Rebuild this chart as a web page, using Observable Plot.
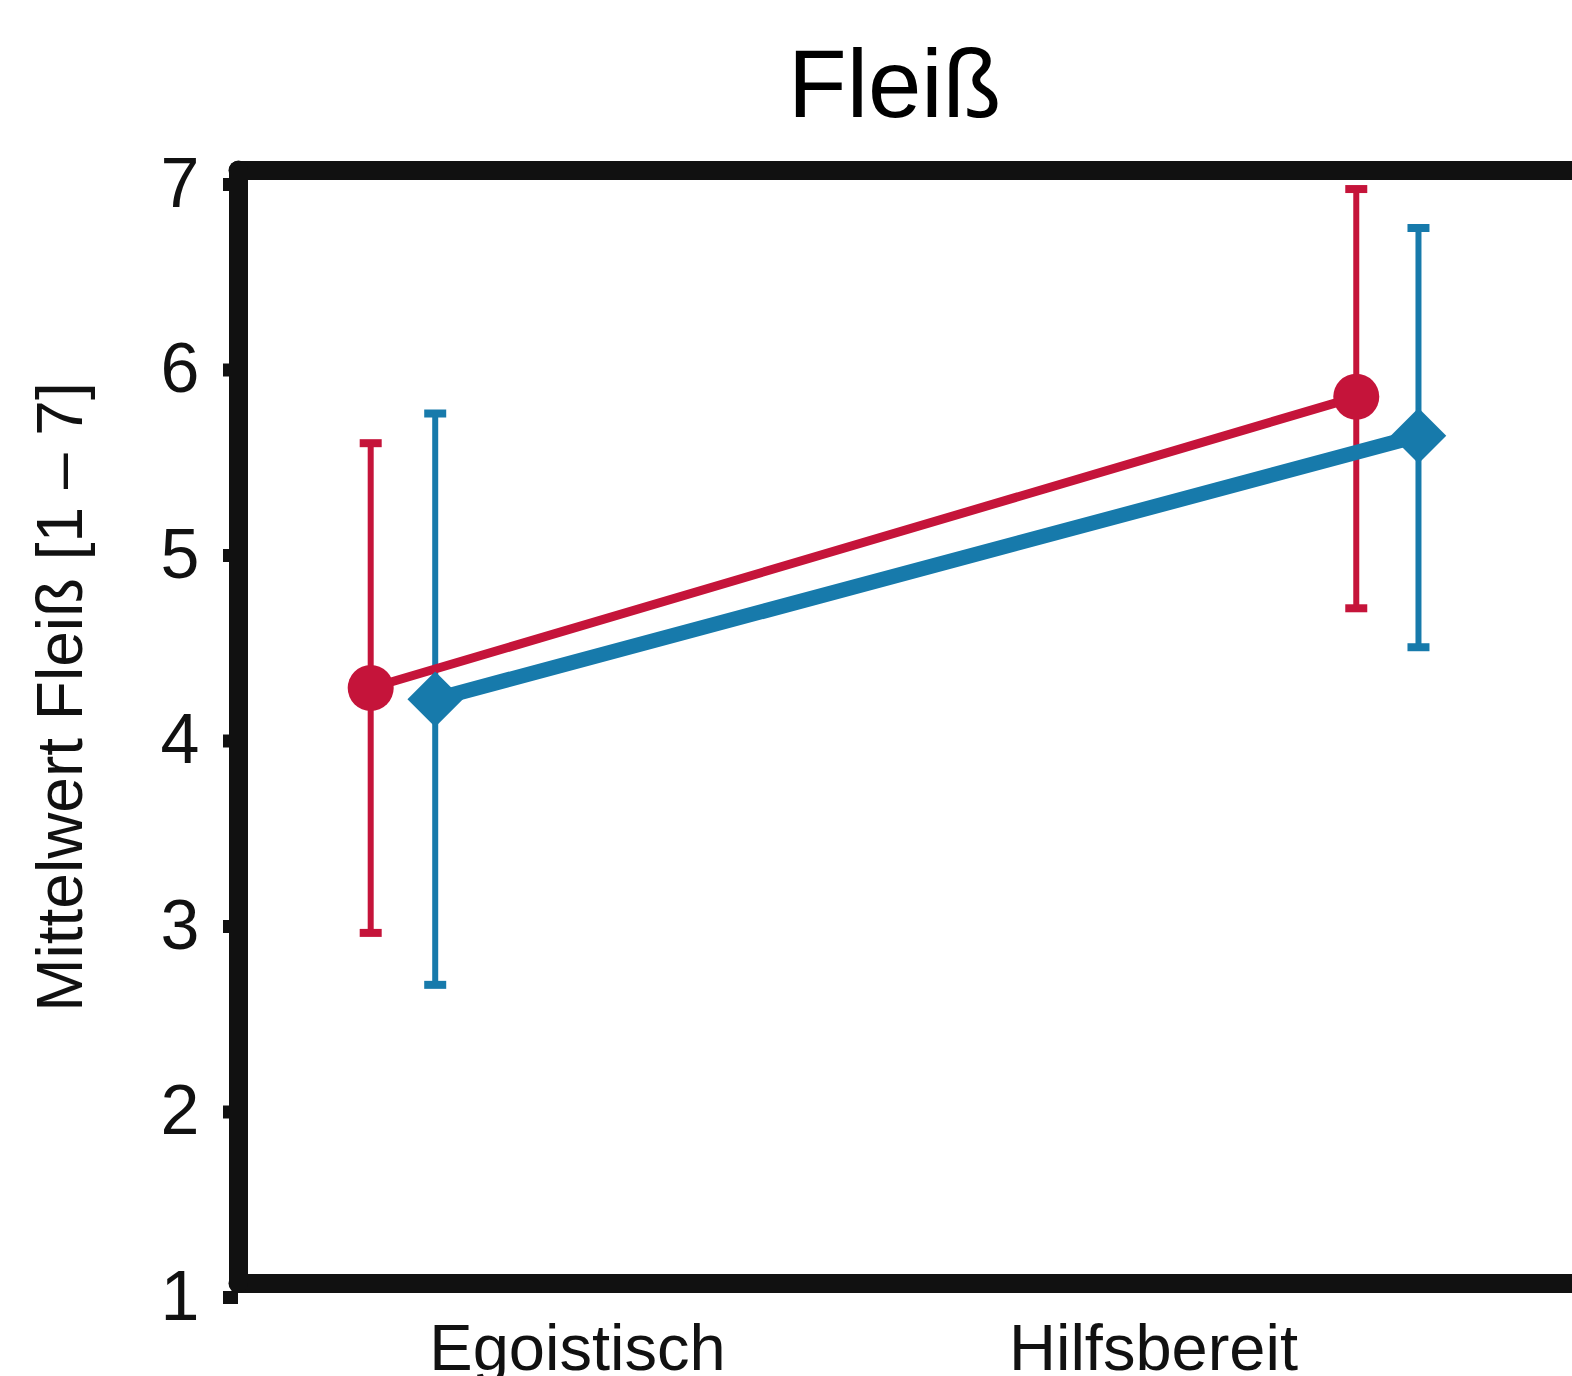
<!DOCTYPE html>
<html>
<head>
<meta charset="utf-8">
<script src="https://cdn.jsdelivr.net/npm/d3@7"></script>
<script src="https://cdn.jsdelivr.net/npm/@observablehq/plot@0.6"></script>
<style>
  html, body { margin: 0; padding: 0; background: #fff; }
  body { width: 1572px; height: 1376px; overflow: hidden; font-family: "Liberation Sans", Arial, sans-serif; }
  #title { box-sizing: border-box; height: 140px; padding-top: 36px; padding-left: 0; width: 1572px;
           font-size: 96px; line-height: 96px; color: #000; text-align: left; }
  #title span { position: relative; left: 788px; }
</style>
</head>
<body>
<div id="title"><span>Fleiß</span></div>
<div id="chart"></div>
<script>
// ---- data ----
const titleText = "Fleiß";
const yTitle = "Mittelwert Fleiß [1 – 7]";
const categories = ["Egoistisch", "Hilfsbereit"];
const categoryPos = [1, 2];          // category label positions on the x axis
const yTicks = [1, 2, 3, 4, 5, 6, 7];

// red series (circles)
const redX = [0.641, 2.352];
const redMean = [4.21, 5.78];
const redLow = [2.89, 4.64];
const redHigh = [5.53, 6.90];

// blue series (diamonds)
const blueX = [0.753, 2.460];
const blueMean = [4.15, 5.57];
const blueLow = [2.61, 4.43];
const blueHigh = [5.69, 6.69];

const RED = "#c5143a";
const BLUE = "#177aab";
const INK = "#111";

const redRows = categories.map((c, i) => ({cat: c, x: redX[i], mean: redMean[i], lo: redLow[i], hi: redHigh[i]}));
const blueRows = categories.map((c, i) => ({cat: c, x: blueX[i], mean: blueMean[i], lo: blueLow[i], hi: blueHigh[i]}));

const xDomain = [0.4115, 2.7274];

// horizontal cap symbol for error bars
const capSymbol = {
  draw(context, size) {
    const w = Math.sqrt(size / Math.PI);
    context.moveTo(-w, 0);
    context.lineTo(w, 0);
  }
};

const errMarks = (rows, color) => [
  Plot.ruleX(rows, {x: "x", y1: "lo", y2: "hi", stroke: color, strokeWidth: 6}),
  Plot.dot(rows, {x: "x", y: "lo", symbol: capSymbol, r: 11, stroke: color, strokeWidth: 8, fill: "none"}),
  Plot.dot(rows, {x: "x", y: "hi", symbol: capSymbol, r: 11, stroke: color, strokeWidth: 8, fill: "none"})
];

const chart = Plot.plot({
  width: 1572,
  height: 1236,
  marginLeft: 238,
  marginRight: 0,
  marginTop: 30,
  marginBottom: 93,
  style: {fontFamily: "'Liberation Sans', Arial, sans-serif", background: "#fff", color: INK},
  x: {type: "linear", domain: xDomain},
  y: {type: "linear", domain: [1, 7]},
  marks: [
    Plot.axisY({ticks: yTicks, tickSize: 15, tickPadding: 24, strokeWidth: 13, stroke: INK,
                fontSize: 70, dy: 14, fill: INK, label: null, tickFormat: d => String(d)}),
    Plot.axisX({ticks: categoryPos, tickSize: 0, tickPadding: 40, fontSize: 65, fill: INK,
                label: null, tickFormat: d => categories[categoryPos.indexOf(d)]}),
    Plot.text([yTitle], {frameAnchor: "left", textAnchor: "middle", rotate: -90, dx: -177, dy: -30,
                         fontSize: 64, fill: INK}),
    ...errMarks(redRows, RED),
    ...errMarks(blueRows, BLUE),
    Plot.line(blueRows, {x: "x", y: "mean", stroke: BLUE, strokeWidth: 15}),
    Plot.line(redRows, {x: "x", y: "mean", stroke: RED, strokeWidth: 9}),
    Plot.dot(blueRows, {x: "x", y: "mean", symbol: "diamond2", r: 25, fill: BLUE, stroke: "none"}),
    Plot.dot(redRows, {x: "x", y: "mean", r: 23, fill: RED, stroke: "none"}),
    // frame: top, bottom and left lines
    Plot.ruleY([1, 7], {stroke: INK, strokeWidth: 19, strokeLinecap: "round"}),
    Plot.ruleX([xDomain[0]], {stroke: INK, strokeWidth: 19, strokeLinecap: "round"})
  ]
});
document.getElementById("chart").appendChild(chart);
document.querySelector("#title span").textContent = titleText;
</script>
</body>
</html>
